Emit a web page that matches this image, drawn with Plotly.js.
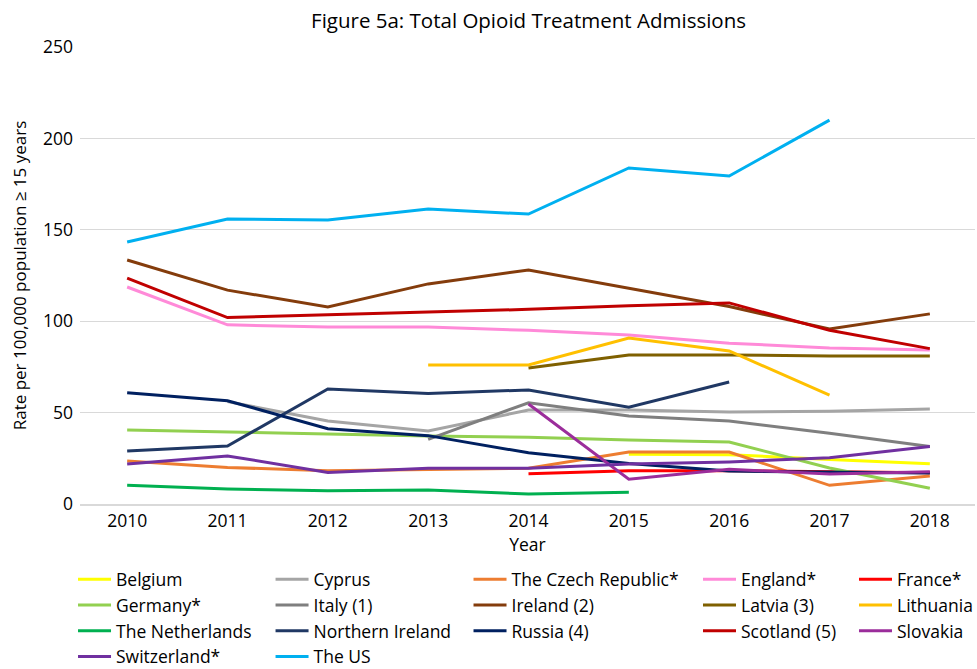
<!DOCTYPE html>
<html>
<head>
<meta charset="utf-8">
<script src="https://cdn.plot.ly/plotly-3.0.1.min.js"></script>
<style>html,body{margin:0;padding:0;background:#fff;}#chart{width:977px;height:669px;}</style>
</head>
<body>
<div id="chart"></div>
<script>
const years = [2010, 2011, 2012, 2013, 2014, 2015, 2016, 2017, 2018];

const belgium      = [null, null, null, null, null, 27.2, 27, 24.4, 22];
const cyprus       = [null, 56, 45.4, 39.9, 51.4, 51.4, 50.3, 50.7, 52];
const czech        = [23.5, 20, 18.2, 19, 19.5, 28.4, 28.4, 10.2, 15.3];
const england      = [118.7, 98, 96.8, 96.8, 95, 92.5, 88, 85.3, 84.2];
const france       = [null, null, null, null, 16.6, 18.2, 18.2, 17.5, 17.1];
const germany      = [40.5, 39.2, 38.3, 37.2, 36.5, 35, 33.9, 19.7, 8.6];
const italy        = [null, null, null, 35.4, 55.4, 48.1, 45.4, 38.7, 31.4];
const ireland      = [133.5, 117, 107.8, 120.4, 128, 118, 108, 95.7, 104];
const latvia       = [null, null, null, null, 74.4, 81.5, 81.5, 81, 81];
const lithuania    = [null, null, null, 76, 76, 90.8, 83.7, 59.6, null];
const netherlands  = [10.2, 8.2, 7.3, 7.7, 5.5, 6.4, null, null, null];
const nIreland     = [29, 31.7, 62.9, 60.5, 62.4, 52.9, 66.7, null, null];
const russia       = [60.9, 56.5, 41.2, 37.4, 28, 22.2, 18, 17.5, 17];
const scotland     = [123.6, 102, 103.5, 105, 106.5, 108.5, 110, 95, 85];
const slovakia     = [null, null, null, null, 54.7, 13.5, 19, 16.4, 17.7];
const switzerland  = [21.9, 26.3, 17.3, 19.5, 19.5, 21.9, 23, 25.3, 31.4];
const us           = [143.3, 155.9, 155.4, 161.4, 158.6, 183.8, 179.4, 210, null];

const yTicks = [0, 50, 100, 150, 200, 250];

// [name, values, colour, legend column]
const series = [
  ["Belgium", belgium, "#FFFF00", 1],
  ["Cyprus", cyprus, "#A5A5A5", 2],
  ["The Czech Republic*", czech, "#ED7D31", 3],
  ["England*", england, "#FF8AD8", 4],
  ["France*", france, "#FF0000", 5],
  ["Germany*", germany, "#92D050", 1],
  ["Italy (1)", italy, "#7F7F7F", 2],
  ["Ireland (2)", ireland, "#843C0C", 3],
  ["Latvia (3)", latvia, "#7F6000", 4],
  ["Lithuania", lithuania, "#FFC000", 5],
  ["The Netherlands", netherlands, "#00B050", 1],
  ["Northern Ireland", nIreland, "#203864", 2],
  ["Russia (4)", russia, "#002060", 3],
  ["Scotland (5)", scotland, "#C00000", 4],
  ["Slovakia", slovakia, "#9B2D9B", 5],
  ["Switzerland*", switzerland, "#7030A0", 1],
  ["The US", us, "#00B0F0", 2]
];

const traces = series.map(([name, vals, color, col]) => ({
  type: "scatter",
  mode: "lines",
  name: name,
  x: years,
  y: vals,
  line: {color: color, width: 3},
  connectgaps: false,
  hoverinfo: "skip",
  legend: col === 1 ? "legend" : "legend" + col
}));

const FONT = "'Open Sans', sans-serif";
const legendX = [-0.0078, 0.2129, 0.4341, 0.6905, 0.8648];
const legendY = -0.1258;
function mkLegend(x) {
  return {
    orientation: "v", x: x, xanchor: "left", y: legendY, yanchor: "top",
    font: {size: 17.5, family: FONT, color: "#000"},
    traceorder: "normal", itemwidth: 33, bgcolor: "rgba(0,0,0,0)", borderwidth: 0
  };
}

const layout = {
  width: 977, height: 669,
  margin: {l: 80, r: 2, t: 47, b: 165, autoexpand: false},
  paper_bgcolor: "#fff", plot_bgcolor: "#fff",
  font: {family: FONT, size: 17.5, color: "#000"},
  title: {text: "Figure 5a: Total Opioid Treatment Admissions", x: 0.541, xanchor: "center", y: 0.969, yanchor: "middle", font: {size: 20.5, family: FONT, color: "#000"}},
  showlegend: true,
  legend: mkLegend(legendX[0]),
  legend2: mkLegend(legendX[1]),
  legend3: mkLegend(legendX[2]),
  legend4: mkLegend(legendX[3]),
  legend5: mkLegend(legendX[4]),
  xaxis: {
    type: "linear", range: [2009.53, 2018.45],
    tickvals: years, ticktext: years.map(String),
    showgrid: false, zeroline: false, showline: true, linecolor: "#D9D9D9", linewidth: 1.5,
    ticks: "", tickfont: {size: 17.5},
    title: {text: "Year", font: {size: 17.5}, standoff: 8}
  },
  yaxis: {
    range: [0, 250], tickvals: yTicks,
    showgrid: true, gridcolor: "#D9D9D9", gridwidth: 1, zeroline: false,
    ticks: "", tickfont: {size: 17.5}, ticklabelstandoff: 6,
    title: {text: "Rate per 100,000 population ≥ 15 years", font: {size: 17}, standoff: 12}
  }
};

Plotly.newPlot("chart", traces, layout, {displayModeBar: false, staticPlot: true});
</script>
</body>
</html>
